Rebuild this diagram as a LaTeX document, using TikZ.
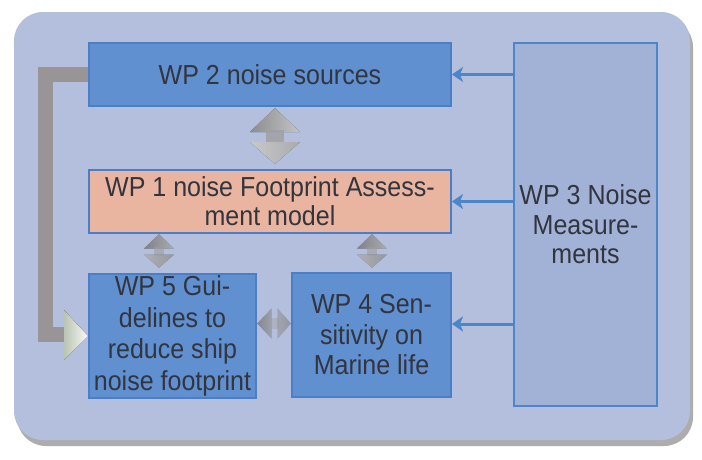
\documentclass[tikz,border=0pt]{standalone}
\usepackage{fontspec}
\setmainfont[FakeStretch=0.91]{Liberation Sans}
\usetikzlibrary{arrows.meta,calc,shadows}

\definecolor{panel}{RGB}{179,191,221}
\definecolor{wpblue}{RGB}{96,144,208}
\definecolor{wpedge}{RGB}{74,126,198}
\definecolor{wpsalmon}{RGB}{233,181,160}
\definecolor{wpmeas}{RGB}{161,178,214}
\definecolor{feedblue}{RGB}{74,134,200}
\definecolor{txt}{RGB}{50,52,62}
\definecolor{barg}{RGB}{153,148,150}
\definecolor{headg}{RGB}{186,196,178}

% two-headed grey block arrow: #1 centre, #2 scale, #3 rotation, #4 opacity
\newcommand{\pairarrow}[4]{%
  \begin{scope}[shift={#1}, scale=#2, rotate=#3, opacity=#4]
    \fill[left color=gray!70, right color=gray!15] (0,-28) -- (25,-4) -- (-25,-4) -- cycle;
    \fill[gray!75] (-9,-6) rectangle (9,9);
    \fill[left color=white!90!gray, right color=gray!40] (-25,6) -- (25,6) -- (0,28) -- cycle;
  \end{scope}}

\begin{document}
\begin{tikzpicture}[x=1pt,y=-1pt,
  wp/.style={draw=wpedge, line width=2pt, fill=wpblue, text=txt, align=center,
             inner sep=0pt, font=\fontsize{27.5}{30}\selectfont},
  feed/.style={draw=feedblue, line width=3pt, -{Stealth[length=11pt,width=15pt,inset=3pt]}},
  bar/.style={draw=barg, line width=15pt},
]
\useasboundingbox (0,0) rectangle (702,459);
\fill[white] (0,0) rectangle (702,459);

% rounded panel with its shadow
\path[fill=panel, rounded corners=29pt,
      drop shadow={shadow xshift=3pt, shadow yshift=-6pt, fill=gray!80, opacity=0.8}]
  (14,12) rectangle (690,440);

% work packages
\node[wp, minimum width=362pt, minimum height=63pt] (wp2) at (270,74.5) {WP 2 noise sources};
\node[wp, fill=wpsalmon, minimum width=362pt, minimum height=63pt,
      font=\fontsize{27.5}{29}\selectfont] (wp1) at (270,201.5) {WP 1 noise Footprint Assess-\\ment model};
\node[wp, minimum width=167pt, minimum height=124pt,
      font=\fontsize{27.5}{31.5}\selectfont] (wp5) at (172.5,336) {WP 5 Gui-\\delines to\\reduce ship\\noise footprint};
\node[wp, minimum width=159pt, minimum height=124pt,
      font=\fontsize{27.5}{30.5}\selectfont] (wp4) at (371.5,335) {WP 4 Sen-\\sitivity on\\Marine life};
\node[wp, fill=wpmeas, draw=feedblue, line width=2.5pt, minimum width=143pt, minimum height=363pt,
      font=\fontsize{27.5}{29.5}\selectfont] (wp3) at (585.5,224.5) {WP 3 Noise\\Measure-\\ments};

% measurements feeding the other packages
\coordinate (in4) at ($(wp4.east)+(0,-11)$);
\draw[feed] (wp3.west |- wp2.east) -- (wp2.east);
\draw[feed] (wp3.west |- wp1.east) -- (wp1.east);
\draw[feed] (wp3.west |- in4) -- (in4);

% grey return path from WP 2 to WP 5
\coordinate (bend) at (45,334);
\coordinate (barend) at (66,334);
\draw[bar] (wp2.west) -| (bend) -- (barend);
\fill[left color=headg, right color=white!90!headg] (64,310) -- (wp5.west) -- (64,360) -- cycle;

% two-way exchanges between packages
\coordinate (x21) at (275,136);
\coordinate (x15) at (159,251);
\coordinate (x14) at (372,251);
\coordinate (x54) at ($(wp5.east)!0.5!(wp4.west)+(0,-12)$);
\pairarrow{(x21)}{1}{0}{0.8}
\pairarrow{(x15)}{0.6}{0}{0.6}
\pairarrow{(x14)}{0.6}{0}{0.6}
\pairarrow{(x54)}{0.6}{90}{0.4}
\end{tikzpicture}
\end{document}
